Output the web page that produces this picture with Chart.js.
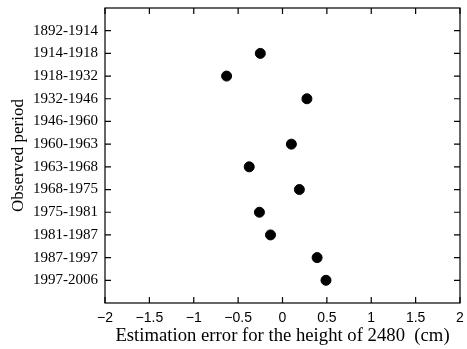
<!DOCTYPE html>
<html>
<head>
<meta charset="utf-8">
<script src="https://cdn.jsdelivr.net/npm/chart.js@4/dist/chart.umd.min.js"></script>
<style>
  html, body { margin: 0; padding: 0; background: #fff; }
  #wrap { width: 467px; height: 349px; }
</style>
</head>
<body>
<div id="wrap"><canvas id="myChart" width="467" height="349"></canvas></div>
<script>
// observed periods, top to bottom
const periods = [
    "1892-1914", "1914-1918", "1918-1932", "1932-1946", "1946-1960", "1960-1963",
    "1963-1968", "1968-1975", "1975-1981", "1981-1987", "1987-1997", "1997-2006"
];
// estimation error (cm), null where no point is shown
const errors = [null, -0.25, -0.63, 0.275, null, 0.10, -0.375, 0.19, -0.26, -0.135, 0.39, 0.49];
const xTicks = [-2, -1.5, -1, -0.5, 0, 0.5, 1, 1.5, 2];

const points = periods
    .map((p, i) => ({ x: errors[i], y: i }))
    .filter(d => d.x !== null);

// frame with inward tick marks on all four sides
const frameTicks = {
    id: 'frameTicks',
    afterDraw(chart) {
        const ctx = chart.ctx;
        const a = chart.chartArea;
        const xs = chart.scales.x, ys = chart.scales.y;
        const len = 6;
        ctx.save();
        ctx.strokeStyle = '#000';
        ctx.lineWidth = 1.2;
        ctx.strokeRect(a.left, a.top, a.right - a.left, a.bottom - a.top);
        ctx.beginPath();
        xs.ticks.forEach(t => {
            const px = xs.getPixelForValue(t.value);
            ctx.moveTo(px, a.bottom); ctx.lineTo(px, a.bottom - len);
            ctx.moveTo(px, a.top); ctx.lineTo(px, a.top + len);
        });
        ys.ticks.forEach(t => {
            const py = ys.getPixelForValue(t.value);
            ctx.moveTo(a.left, py); ctx.lineTo(a.left + len, py);
            ctx.moveTo(a.right, py); ctx.lineTo(a.right - len, py);
        });
        ctx.stroke();
        ctx.restore();
    }
};

// keep the plot box where it is in the original, ignore label overhang
function noOverhang(s) {
    s.paddingTop = 0; s.paddingBottom = 0;
    s.paddingLeft = 0; s.paddingRight = 0;
}

new Chart(document.getElementById('myChart').getContext('2d'), {
    type: 'scatter',
    data: {
        datasets: [{
            data: points,
            backgroundColor: '#000',
            borderColor: '#000',
            pointRadius: 5,
            pointHoverRadius: 5
        }]
    },
    options: {
        responsive: false,
        animation: false,
        layout: { padding: { top: 8, right: 7, left: 0, bottom: 0 } },
        plugins: { legend: { display: false }, tooltip: { enabled: false } },
        scales: {
            x: {
                type: 'linear',
                min: -2,
                max: 2,
                afterBuildTicks: s => { s.ticks = xTicks.map(v => ({ value: v })); },
                afterFit: s => { s.height = 46; noOverhang(s); },
                grid: { display: false, drawTicks: false },
                border: { display: false },
                ticks: {
                    padding: 7,
                    color: '#000',
                    font: { family: 'Liberation Sans', size: 14 },
                    callback: v => String(v).replace('-', '\u2212')
                },
                title: {
                    display: true,
                    text: 'Estimation error for the height of 2480  (cm)',
                    color: '#000',
                    font: { family: 'Liberation Serif', size: 18.7 },
                    padding: { top: 0, bottom: 2 }
                }
            },
            y: {
                type: 'linear',
                min: -1,
                max: 12,
                reverse: true,
                afterBuildTicks: s => { s.ticks = periods.map((p, i) => ({ value: i })); },
                afterFit: s => { s.width = 105; noOverhang(s); },
                grid: { display: false, drawTicks: false },
                border: { display: false },
                ticks: {
                    padding: 7,
                    color: '#000',
                    font: { family: 'Liberation Serif', size: 15 },
                    callback: v => periods[v]
                },
                title: {
                    display: true,
                    text: 'Observed period',
                    color: '#000',
                    font: { family: 'Liberation Serif', size: 17 },
                    padding: { top: 8, bottom: 0 }
                }
            }
        }
    },
    plugins: [frameTicks]
});
</script>
</body>
</html>
